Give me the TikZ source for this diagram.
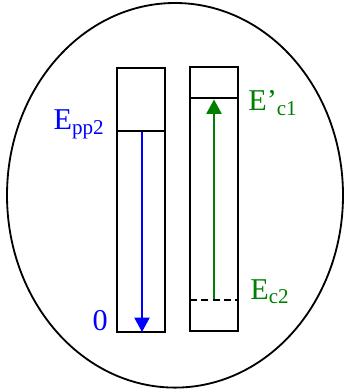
\documentclass[tikz,border=0pt]{standalone}
\usepackage{fontspec}
\setmainfont{Liberation Serif}
\usetikzlibrary{arrows.meta}

\definecolor{levelblue}{RGB}{0,0,255}
\definecolor{levelgreen}{RGB}{0,128,0}

\newcommand{\lvlsub}[1]{\raisebox{-0.11cm}{\fontsize{15}{15}\selectfont #1}}

\begin{document}
\begin{tikzpicture}[
  x=0.025cm,
  y=-0.025cm,
  line join=miter,
  bandbox/.style={
    draw=black,
    line width=1.3pt
  },
  levelline/.style={
    draw=black,
    line width=1.3pt
  },
  transition/.style={
    line width=1.2pt,
    -{Triangle[length=3.6mm,width=3.8mm]}
  },
  label/.style={
    font=\fontsize{21.5}{25}\selectfont,
    inner sep=0pt
  }
]

  % 可调参数
  \def\ytop{68}
  \def\ybot{332}
  \def\yppt{131}
  \def\ycone{98}
  \def\yctwo{300}

  \path[use as bounding box]
    (0,0) rectangle (344,392);

  % 外圈
  \draw[line width=1.3pt]
    (175,195.3)
    ellipse[
      x radius=168,
      y radius=192.3
    ];

  % 左框
  \draw[bandbox]
    (117,\ytop) rectangle (165,\ybot);

  % 右框
  \draw[bandbox]
    (190,67) rectangle (238,331);

  % 能级线
  \draw[levelline]
    (117,\yppt) -- (165,\yppt);

  \draw[levelline]
    (190,\ycone) -- (238,\ycone);

  \draw[
    levelline,
    dash pattern=on 5pt off 3pt
  ]
    (190,\yctwo) -- (238,\yctwo);

  % 端点
  \coordinate (ppTwo) at (142,{\yppt+1.5});
  \coordinate (zero) at (142,\ybot);
  \coordinate (cTwo) at (214,{\yctwo-1});
  \coordinate (cOne) at (214,{\ycone+1.5});

  % 向下跃迁
  \draw[transition,levelblue]
    (ppTwo) -- (zero);

  % 向上跃迁
  \draw[transition,levelgreen]
    (cTwo) -- (cOne);

  % 标注
  \node[label,levelblue,anchor=base east] (Epp) at (104,130)
    {E\lvlsub{pp2}};

  \node[label,levelblue,anchor=base east] (zeroLabel) at (108,330)
    {0};

  \node[label,levelgreen,anchor=base west] (Econe) at (248,111)
    {E’\lvlsub{c1}};

  \node[label,levelgreen,anchor=base west] (Ectwo) at (250,299.5)
    {E\lvlsub{c2}};

\end{tikzpicture}
\end{document}
